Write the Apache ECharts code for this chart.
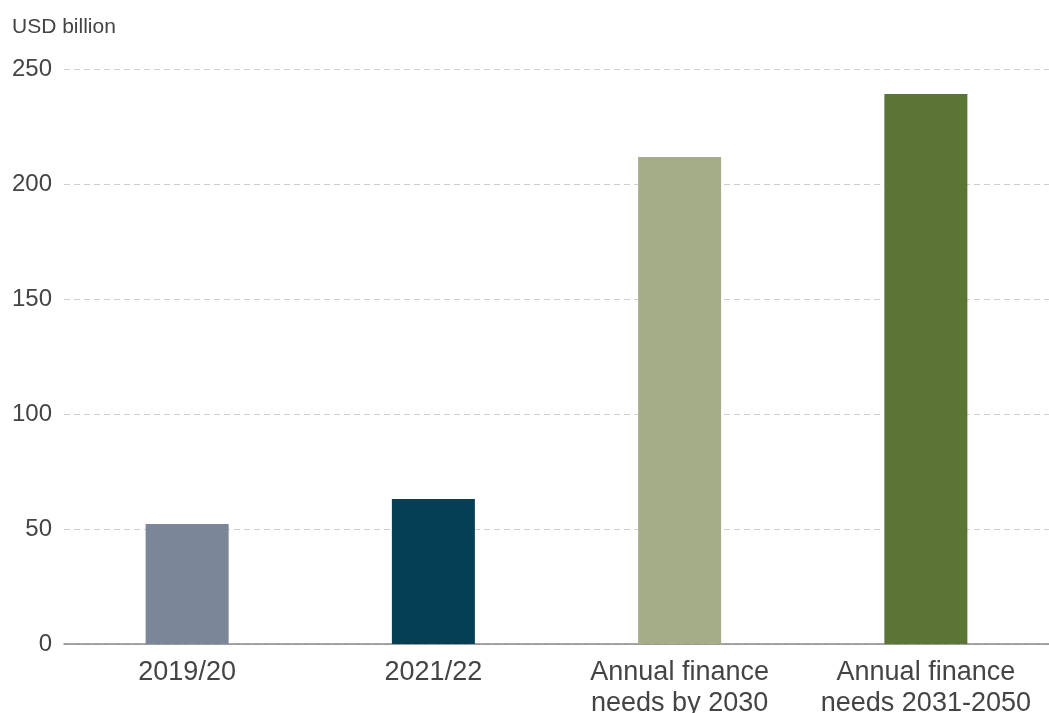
<!DOCTYPE html>
<html>
<head>
<meta charset="utf-8">
<script src="https://cdn.jsdelivr.net/npm/echarts@6/dist/echarts.min.js"></script>
<style>
  html, body { margin: 0; padding: 0; background: #fff; }
  #chart { width: 1049px; height: 713px; }
</style>
</head>
<body>
<div id="chart"></div>
<script>
// Finance flows and needs, USD billion
const categories = ['2019/20', '2021/22', 'Annual finance\nneeds by 2030', 'Annual finance\nneeds 2031-2050'];
const values = [52.2, 63.0, 211.7, 239.1];
const barColors = ['#7b8699', '#043f56', '#a5ad87', '#5b7634'];
const yTicks = { min: 0, max: 250, interval: 50 };

const font = 'Liberation Sans, Arial, sans-serif';
const chart = echarts.init(document.getElementById('chart'));
chart.setOption({
  animation: false,
  textStyle: { fontFamily: font },
  grid: { left: 64, right: 0, top: 69, bottom: 69, containLabel: false, outerBoundsMode: 'none' },
  graphic: [{
    type: 'text', left: 12, top: 17,
    style: { text: 'USD billion', fontSize: 21, fill: '#444', fontFamily: font }
  }],
  xAxis: {
    type: 'category',
    data: categories,
    axisLine: { lineStyle: { color: '#888', width: 1.5 } },
    axisTick: { show: false },
    axisLabel: { color: '#444', fontSize: 27, lineHeight: 31, margin: 13, interval: 0, hideOverlap: false }
  },
  yAxis: {
    type: 'value',
    min: yTicks.min, max: yTicks.max, interval: yTicks.interval,
    axisLine: { show: false },
    axisTick: { show: false },
    axisLabel: { color: '#444', fontSize: 24, margin: 12 },
    splitLine: { lineStyle: { color: '#cfcfcf', type: [6, 4], width: 1 } }
  },
  series: [{
    type: 'bar',
    barWidth: 83,
    data: values.map((v, i) => ({ value: v, itemStyle: { color: barColors[i] } }))
  }]
});
</script>
</body>
</html>
